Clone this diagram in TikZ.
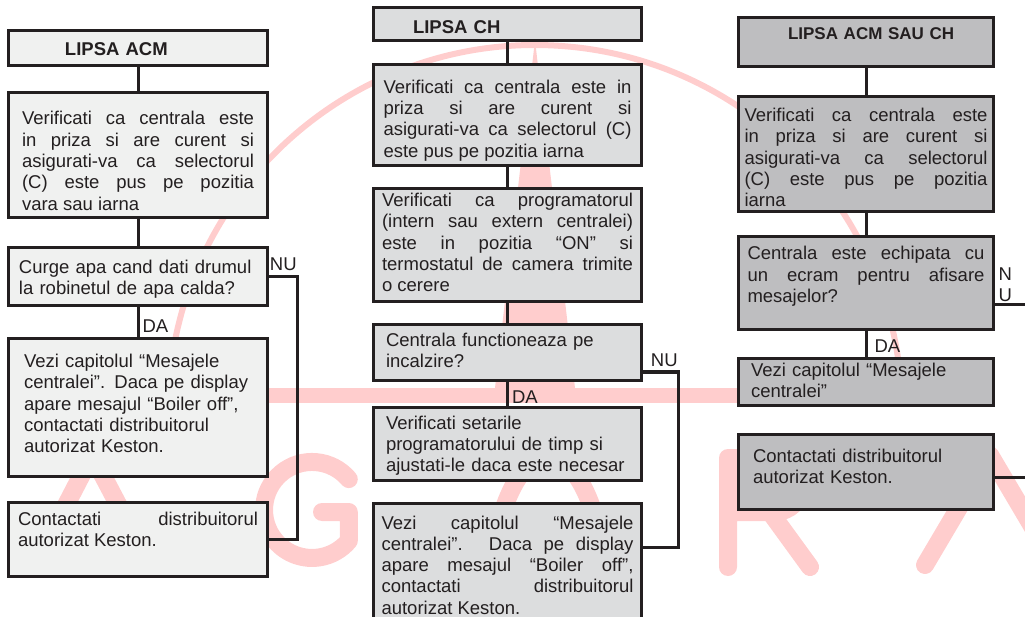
\documentclass[tikz,border=0pt]{standalone}
\usepackage{fontspec}
\setmainfont{Liberation Sans}
\usetikzlibrary{positioning}
\definecolor{ink}{RGB}{35,31,32}
\definecolor{acmfill}{RGB}{240,241,240}
\definecolor{chfill}{RGB}{220,221,222}
\definecolor{bothfill}{RGB}{190,190,192}
\definecolor{logo}{RGB}{255,205,205}
\newcommand{\boxfont}{\fontsize{18.5}{21.3}\selectfont\hyphenpenalty=10000\exhyphenpenalty=10000\relax}
\tikzset{
	every node/.style={text=ink, font=\boxfont},
	flow/.style={draw=ink, line width=3pt, inner sep=0pt, align=left},
	acm/.style={flow, fill=acmfill, minimum width=259pt},
	ch/.style={flow, fill=chfill, minimum width=268pt},
	both/.style={flow, fill=bothfill, minimum width=255pt},
	head/.style={font=\boxfont\bfseries},
	lines/.style 2 args={text height=#1pt, text depth=#2pt},
	link/.style={draw=ink, line width=3pt},
	tag/.style={inner sep=2pt},
	logo stroke/.style={draw=logo, line width=18pt, line cap=round, line join=round},
}

\begin{document}
\begin{tikzpicture}[x=1pt, y=-1pt]
	\useasboundingbox (0,0) rectangle (1025,617);
	% watermark
	\draw[draw=logo, line width=6pt] (535,412) ++(183.8:367) arc[start angle=183.8, end angle=356.2, radius=367];
	\fill[logo] (535,40) -- (575,388) -- (495,388) -- cycle;
	\fill[logo] (170,388) rectangle (900,403);
	\draw[logo stroke] (35,565) -- (92,455) -- (150,565);
	\draw[logo stroke] (348.8,479.1) arc[start angle=-40, end angle=-320, radius=48] -- (348.8,512) -- (322,512);
	\draw[logo stroke] (490,567) .. controls (512,420) and (584,420) .. (606,567);
	\draw[logo stroke] (728,567) -- (728,458) -- (775,458) arc[start angle=-90, end angle=90, radius=27] -- (728,512);
	\draw[logo stroke] (770,512) -- (810,567);
	\draw[logo stroke] (925,565) -- (990,455) -- (1055,565);

	% LIPSA ACM
	\node[acm, head, text width=259pt, lines={25}{10}, anchor=north west] (ACM) at (7,29) {\hspace*{56.5pt}LIPSA ACM};
	\node[acm, align=justify, text width=232pt, lines={32.5}{92.5}, below=24pt of ACM] (ACMCHECK) {Verificati ca centrala este\linebreak in priza si are curent si\linebreak asigurati-va ca selectorul\linebreak (C) este pus pe pozitia\linebreak vara sau iarna};
	\node[acm, text width=238pt, lines={25.8}{32.2}, below=27pt of ACMCHECK] (ACMFLOW) {Curge apa cand dati drumul\\la robinetul de apa calda?};
	\node[acm, text width=228pt, lines={29}{109}, below=30pt of ACMFLOW] (ACMMSG) {Vezi capitolul “Mesajele\\centralei”. Daca pe display\\apare mesajul “Boiler off”,\\contactati distribuitorul\\autorizat Keston.};
	\node[acm, align=justify, text width=240pt, lines={22.5}{51.5}, below=23pt of ACMMSG] (ACMCALL) {Contactati distribuitorul\linebreak autorizat Keston.};

	% LIPSA CH
	\node[ch, head, text width=268pt, lines={25.8}{7.2}, anchor=north west] (CH) at (372,6) {\hspace*{39.5pt}LIPSA CH};
	\node[ch, align=justify, text width=248pt, lines={28.8}{72.2}, below=21pt of CH] (CHCHECK) {Verificati ca centrala este in\linebreak priza si are curent si\linebreak asigurati-va ca selectorul (C)\linebreak este pus pe pozitia iarna};
	\node[ch, align=justify, text width=251pt, lines={18.2}{94.8}, below=20pt of CHCHECK] (CHPROG) {Verificati ca programatorul\linebreak (intern sau extern centralei)\linebreak este in pozitia “ON” si\linebreak termostatul de camera trimite\linebreak o cerere};
	\node[ch, text width=243pt, lines={22.2}{33.8}, below=20pt of CHPROG] (CHHEAT) {Centrala functioneaza pe\\incalzire?};
	\node[ch, text width=243pt, lines={21.5}{51.5}, below=24pt of CHHEAT] (CHTIMER) {Verificati setarile\\programatorului de timp si\\ajustati-le daca este necesar};
	\node[ch, align=justify, text width=252pt, lines={25.5}{101}, below=20pt of CHTIMER] (CHMSG) {Vezi capitolul “Mesajele\linebreak centralei”. Daca pe display\linebreak apare mesajul “Boiler off”,\linebreak contactati distribuitorul\linebreak autorizat Keston.};

	% LIPSA ACM SAU CH
	\node[both, head, font=\fontsize{17}{20}\selectfont\bfseries, text width=255pt, lines={22.5}{26.5}, anchor=north west] (BOTH) at (737,16) {\hspace*{49.5pt}LIPSA ACM SAU CH};
	\node[both, align=justify, text width=243pt, lines={25.2}{89.8}, below=27pt of BOTH] (BOTHCHECK) {Verificati ca centrala este\linebreak in priza si are curent si\linebreak asigurati-va ca selectorul\linebreak (C) este pus pe pozitia\linebreak iarna};
	\node[both, align=justify, text width=237pt, lines={23.5}{69.5}, below=22pt of BOTHCHECK] (BOTHSCREEN) {Centrala este echipata cu\linebreak un ecram pentru afisare\linebreak mesajelor?};
	\node[both, text width=230pt, lines={18.2}{28.8}, below=26pt of BOTHSCREEN] (BOTHMSG) {Vezi capitolul “Mesajele\\centralei”};
	\node[both, text width=226pt, lines={28}{47}, below=26pt of BOTHMSG] (BOTHCALL) {Contactati distribuitorul\\autorizat Keston.};

	% connectors
	\draw[link] (ACM) -- (ACMCHECK);
	\draw[link] (ACMCHECK) -- (ACMFLOW);
	\draw[link] (ACMFLOW) -- node[tag, right=1pt, pos=.63]{DA} (ACMMSG);
	\draw[link] (ACMFLOW.east) -- node[tag, above=2pt, pos=.5]{NU} ++(28.5,0) |- (ACMCALL.east);

	\draw[link] (CH) -- (CHCHECK);
	\draw[link] (CHCHECK) -- (CHPROG);
	\draw[link] (CHPROG) -- (CHHEAT);
	\draw[link] (CHHEAT) -- node[tag, right=1pt, pos=.62]{DA} (CHTIMER);
	\draw[link] ([yshift=10pt]CHHEAT.south east) -- node[tag, above=2pt, pos=.6]{NU} ++(35.5,0) |- ([yshift=-45.5pt]CHMSG.north east);

	\draw[link] (BOTH) -- (BOTHCHECK);
	\draw[link] (BOTHCHECK) -- (BOTHSCREEN);
	\draw[link] (BOTHSCREEN) -- node[tag, right=5pt, pos=.58]{DA} (BOTHMSG);
	\draw[link] ([yshift=26pt]BOTHSCREEN.south east) -- node[tag, pos=0, anchor=south west, align=center]{N\\U} ++(35,0);
	\draw[link] ([yshift=-5pt]BOTHCALL.east) -- ++(35,0);
\end{tikzpicture}
\end{document}
